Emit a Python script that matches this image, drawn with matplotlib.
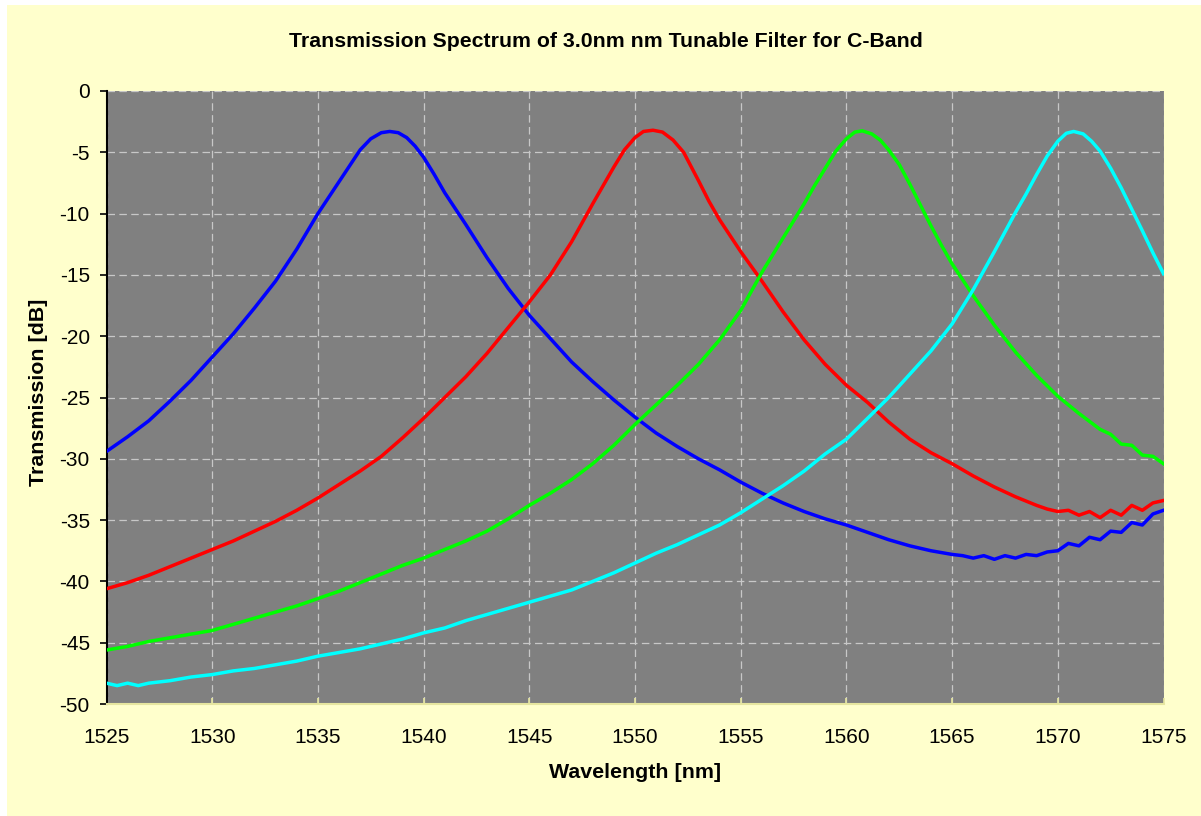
import matplotlib
matplotlib.use("Agg")
import matplotlib.pyplot as plt
from matplotlib.patches import Rectangle

# ----------------------------
# DATA
# ----------------------------
blue_nm = [1525, 1526, 1527, 1528, 1529, 1530, 1531, 1532, 1533, 1534, 1535, 1535.5,
           1536, 1536.5, 1537, 1537.5, 1538, 1538.4, 1538.8, 1539.2, 1539.6, 1540,
           1540.5, 1541, 1541.5, 1542, 1543, 1544, 1545, 1546, 1547, 1548, 1549, 1550,
           1551, 1552, 1553, 1554, 1555, 1556, 1557, 1558, 1559, 1560, 1561, 1562, 1563,
           1564, 1565, 1565.5, 1566, 1566.5, 1567, 1567.5, 1568, 1568.5, 1569, 1569.5,
           1570, 1570.5, 1571, 1571.5, 1572, 1572.5, 1573, 1573.5, 1574, 1574.5, 1575]
blue_db = [-29.4, -28.2, -26.9, -25.3, -23.6, -21.7, -19.8, -17.7, -15.5, -12.9, -10.0, -8.7,
           -7.4, -6.1, -4.8, -3.9, -3.4, -3.3, -3.4, -3.8, -4.5, -5.4,
           -6.8, -8.3, -9.6, -10.9, -13.6, -16.1, -18.3, -20.2, -22.1, -23.7, -25.2, -26.6,
           -27.9, -29.0, -30.0, -30.9, -31.9, -32.8, -33.6, -34.3, -34.9, -35.4, -36.0, -36.6, -37.1,
           -37.5, -37.8, -37.9, -38.1, -37.9, -38.2, -37.9, -38.1, -37.8, -37.9, -37.6,
           -37.5, -36.9, -37.1, -36.4, -36.6, -35.9, -36.0, -35.2, -35.4, -34.5, -34.2]

red_nm = [1525, 1526, 1527, 1528, 1529, 1530, 1531, 1532, 1533, 1534, 1535, 1536, 1537,
          1538, 1539, 1540, 1541, 1542, 1543, 1544, 1545, 1546, 1547, 1548, 1548.5, 1549,
          1549.5, 1550, 1550.4, 1550.85, 1551.3, 1551.8, 1552.3, 1553, 1553.5, 1554, 1555,
          1556, 1557, 1558, 1559, 1560, 1561, 1562, 1563, 1564, 1565, 1566, 1567, 1568,
          1569, 1569.5, 1570, 1570.5, 1571, 1571.5, 1572, 1572.5, 1573, 1573.5, 1574,
          1574.5, 1575]
red_db = [-40.6, -40.1, -39.5, -38.8, -38.1, -37.4, -36.7, -35.9, -35.1, -34.2, -33.2, -32.1, -31.0,
          -29.8, -28.3, -26.7, -25.0, -23.3, -21.4, -19.3, -17.2, -15.0, -12.3, -9.2, -7.7, -6.2,
          -4.8, -3.8, -3.3, -3.2, -3.35, -4.0, -5.0, -7.3, -9.0, -10.5, -13.1,
          -15.5, -18.0, -20.3, -22.3, -24.0, -25.4, -27.0, -28.4, -29.5, -30.4, -31.4, -32.3, -33.1,
          -33.8, -34.1, -34.3, -34.2, -34.6, -34.3, -34.8, -34.2, -34.6, -33.8, -34.2,
          -33.6, -33.4]

green_nm = [1525, 1526, 1527, 1528, 1529, 1530, 1531, 1532, 1533, 1534, 1535, 1536, 1537,
            1538, 1539, 1540, 1541, 1542, 1543, 1544, 1545, 1546, 1547, 1548, 1549, 1550,
            1551, 1552, 1553, 1554, 1555, 1556, 1557, 1558, 1558.5, 1559, 1559.5, 1560,
            1560.4, 1560.75, 1561.2, 1561.6, 1562, 1562.5, 1563, 1563.5, 1564, 1564.5, 1565,
            1565.5, 1566, 1567, 1568, 1569, 1570, 1571, 1572, 1572.5, 1573, 1573.5, 1574,
            1574.5, 1575]
green_db = [-45.6, -45.3, -44.9, -44.6, -44.3, -44.0, -43.5, -43.0, -42.5, -42.0, -41.4, -40.8, -40.1,
            -39.4, -38.7, -38.1, -37.4, -36.7, -35.9, -34.9, -33.8, -32.8, -31.7, -30.4, -28.9, -27.2,
            -25.6, -24.0, -22.3, -20.3, -17.9, -14.8, -12.0, -9.2, -7.7, -6.3, -4.9, -3.9,
            -3.35, -3.25, -3.5, -4.0, -4.8, -6.0, -7.6, -9.3, -11.0, -12.6, -14.1,
            -15.4, -16.7, -19.1, -21.3, -23.2, -24.9, -26.3, -27.6, -28.0, -28.8, -28.9, -29.7,
            -29.8, -30.4]

cyan_nm = [1525, 1525.5, 1526, 1526.5, 1527, 1528, 1529, 1530, 1531, 1532, 1533, 1534, 1535,
           1536, 1537, 1538, 1539, 1540, 1541, 1542, 1543, 1544, 1545, 1546, 1547, 1548,
           1549, 1550, 1551, 1552, 1553, 1554, 1555, 1556, 1557, 1558, 1559, 1560, 1561,
           1562, 1563, 1564, 1565, 1566, 1567, 1568, 1568.5, 1569, 1569.5, 1570, 1570.4,
           1570.75, 1571.2, 1571.6, 1572, 1572.5, 1573, 1573.6, 1574, 1574.5, 1575]
cyan_db = [-48.3, -48.5, -48.3, -48.5, -48.3, -48.1, -47.8, -47.6, -47.3, -47.1, -46.8, -46.5, -46.1,
           -45.8, -45.5, -45.1, -44.7, -44.2, -43.8, -43.2, -42.7, -42.2, -41.7, -41.2, -40.7, -40.0,
           -39.3, -38.5, -37.7, -37.0, -36.2, -35.4, -34.4, -33.3, -32.2, -31.0, -29.6, -28.4, -26.7,
           -25.0, -23.1, -21.2, -19.0, -16.2, -13.1, -9.9, -8.4, -6.8, -5.3, -4.1, -3.45,
           -3.3, -3.5, -4.1, -4.9, -6.3, -7.9, -10.0, -11.4, -13.2, -14.9]

x_ticks = [1525, 1530, 1535, 1540, 1545, 1550, 1555, 1560, 1565, 1570, 1575]
y_ticks = [0, -5, -10, -15, -20, -25, -30, -35, -40, -45, -50]

TITLE = "Transmission Spectrum of 3.0nm nm Tunable Filter for C-Band"
XLABEL = "Wavelength [nm]"
YLABEL = "Transmission [dB]"

# ----------------------------
# STYLE
# ----------------------------
W, H = 1201, 816
FONT = "Liberation Sans"
BG_YELLOW = "#FFFFCC"
PLOT_GRAY = "#808080"
GRID_COLOR = "#C8C8C8"

series = [
    (blue_nm, blue_db, "#0000FF"),
    (red_nm, red_db, "#FF0000"),
    (green_nm, green_db, "#00FF00"),
    (cyan_nm, cyan_db, "#00FFFF"),
]

plt.rcParams["font.family"] = [FONT, "DejaVu Sans"]

fig = plt.figure(figsize=(W / 100, H / 100), dpi=100, facecolor="white")
fig.add_artist(Rectangle((7 / W, 0), 1 - 7 / W, 1 - 5 / H, transform=fig.transFigure,
                         facecolor=BG_YELLOW, edgecolor="none", zorder=-10))

left, right, top, bottom = 106.5, 1163.5, 91, 704
ax = fig.add_axes([left / W, 1 - bottom / H, (right - left) / W, (bottom - top) / H])
ax.set_facecolor(PLOT_GRAY)

for nm, db, c in series:
    ax.plot(nm, db, color=c, linewidth=2.5, solid_joinstyle="round", zorder=3)

ax.set_xlim(1525, 1575)
ax.set_ylim(-50, 0)
ax.set_xticks(x_ticks)
ax.set_yticks(y_ticks)
ax.set_xticklabels([str(v) for v in x_ticks])
ax.set_yticklabels([str(v) for v in y_ticks])

ax.grid(True, color=GRID_COLOR, linestyle=(0, (6, 3.5)), linewidth=0.9, zorder=1)
ax.set_axisbelow(True)

for s in ["top", "right"]:
    ax.spines[s].set_visible(False)
ax.spines["left"].set_color("black")
ax.spines["left"].set_linewidth(1.5)
ax.spines["bottom"].set_color("#E6E6A0")
ax.spines["bottom"].set_linewidth(1.5)

ax.tick_params(axis="y", direction="out", length=5, width=1.2, color="black",
               labelsize=15, pad=7)
ax.tick_params(axis="x", direction="in", length=4, width=1.2, color="#E6E6A0",
               labelsize=15, pad=17)

fig.text(606 / W, 1 - 47 / H, TITLE, ha="center", va="baseline",
         fontsize=15.3, fontweight="bold")
fig.text(635 / W, 1 - 778 / H, XLABEL, ha="center", va="baseline",
         fontsize=15.4, fontweight="bold")
fig.text(38 / W, 1 - 392 / H, YLABEL, ha="center", va="center", rotation=90,
         fontsize=15.4, fontweight="bold")

fig.savefig("out.png", dpi=100, facecolor=fig.get_facecolor())
